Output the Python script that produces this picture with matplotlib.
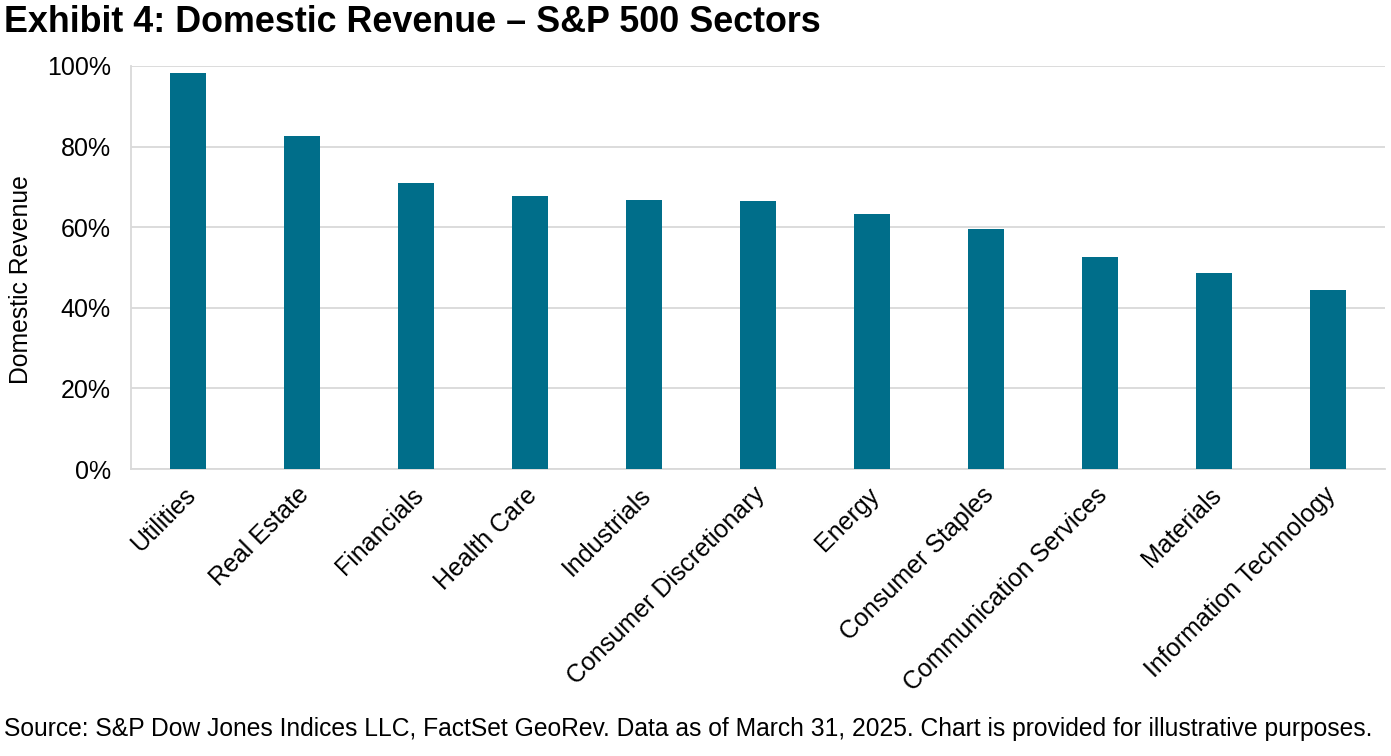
import matplotlib
matplotlib.use('Agg')
import matplotlib.pyplot as plt
import matplotlib.transforms as mtrans
from matplotlib.ticker import FuncFormatter

matplotlib.rcParams['font.family'] = ['Liberation Sans', 'DejaVu Sans']

sectors = ['Utilities', 'Real Estate', 'Financials', 'Health Care', 'Industrials',
           'Consumer Discretionary', 'Energy', 'Consumer Staples',
           'Communication Services', 'Materials', 'Information Technology']
domestic = [98.2, 82.6, 71.0, 67.7, 66.7, 66.5, 63.3, 59.6, 52.6, 48.6, 44.4]

fig = plt.figure(figsize=(13.91, 7.56), dpi=100)
ax = fig.add_axes([0.0942, 0.3796, 0.9015, 0.5331])

x = range(len(sectors))
ax.bar(x, domestic, width=0.32, color='#006E8A', zorder=3)

ax.set_xlim(-0.5, len(sectors) - 0.5)
ax.set_ylim(0, 100)
ax.set_yticks([0, 20, 40, 60, 80, 100])
ax.yaxis.set_major_formatter(FuncFormatter(lambda v, p: f'{v:.0f}%'))
ax.grid(axis='y', color='#D9D9D9', linewidth=1.3, zorder=0)

for s in ['top', 'right']:
    ax.spines[s].set_visible(False)
for s in ['left', 'bottom']:
    ax.spines[s].set_color('#D9D9D9')
    ax.spines[s].set_linewidth(1.3)

ax.tick_params(axis='both', length=0, labelsize=18, colors='black')
ax.tick_params(axis='y', pad=14.5)
ax.set_xticks(list(x))
ax.set_xticklabels(sectors, rotation=45, ha='right', rotation_mode='anchor')
ax.tick_params(axis='x', pad=10)
# nudge rotated labels a little to the left
shift = mtrans.ScaledTranslation(-5 / 100, 0, fig.dpi_scale_trans)
for lbl in ax.get_xticklabels():
    lbl.set_transform(lbl.get_transform() + shift)

ax.set_ylabel('Domestic Revenue', fontsize=17.8)
ax.yaxis.set_label_coords(-0.078, 0.47)

fig.text(0.003, 0.97, 'Exhibit 4: Domestic Revenue \u2013 S&P 500 Sectors',
         fontsize=25.8, fontweight='bold', va='center', ha='left')
fig.text(0.003, 0.036,
         'Source: S&P Dow Jones Indices LLC, FactSet GeoRev. Data as of March 31, 2025. '
         'Chart is provided for illustrative purposes.',
         fontsize=17.7, va='center', ha='left')

fig.savefig('out.png', dpi=100)
